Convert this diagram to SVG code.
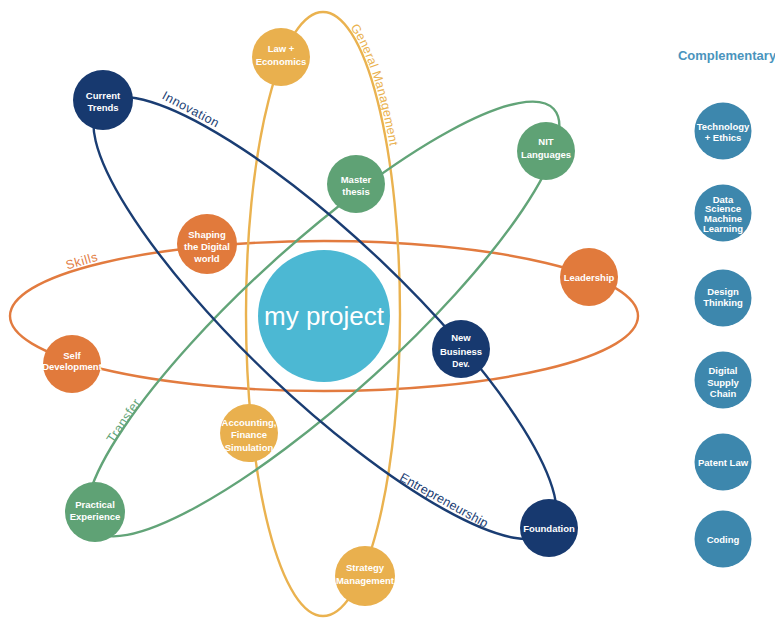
<svg xmlns="http://www.w3.org/2000/svg" width="775" height="620" viewBox="0 0 775 620">
  <style>
    .orbit { fill: none; stroke-width: 2.4; }
    .skills { stroke: #E27B3F; }
    .gm { stroke: #EAB24F; }
    .transfer { stroke: #62A478; }
    .innov { stroke: #1A3D73; }
    .lbl { font-family: "Liberation Sans", Arial, sans-serif; font-size: 12.5px; }
    .node text { font-family: "Liberation Sans", Arial, sans-serif; font-size: 9.5px; font-weight: bold; fill: #ffffff; text-anchor: middle; }
    .c-orange { fill: #E17A3C; }
    .c-gold { fill: #E9B04E; }
    .c-green { fill: #5FA275; }
    .c-navy { fill: #17396F; }
    .c-comp { fill: #3D87AD; }
  </style>
  <defs>
    <path id="gmPath" d="M 323 9 A 80 305 0 0 1 403 314"/>
  </defs>
  <rect width="775" height="620" fill="#ffffff"/>

  <!-- orbits and their labels -->
  <g id="connectors">
    <ellipse class="orbit skills" cx="324" cy="316" rx="314" ry="75"/>
    <ellipse class="orbit gm" cx="323" cy="314" rx="77" ry="302"/>
    <ellipse class="orbit transfer" cx="323" cy="319" rx="312" ry="76" transform="rotate(-42.3 323 319)"/>
    <ellipse class="orbit innov" cx="325" cy="318" rx="310" ry="80" transform="rotate(43.5 325 318)"/>

    <text class="lbl" fill="#E27B3F" letter-spacing="0.6" text-anchor="middle" x="83" y="265" transform="rotate(-16 83 265)">Skills</text>
    <text class="lbl" fill="#EAB24F" letter-spacing="0.3"><textPath href="#gmPath" startOffset="34">General Management</textPath></text>
    <text class="lbl" fill="#62A478" letter-spacing="0.5" text-anchor="middle" x="127" y="423" transform="rotate(-56 127 423)">Transfer</text>
    <text class="lbl" fill="#1A3D73" letter-spacing="0.5" text-anchor="middle" x="189" y="113" transform="rotate(28 189 113)">Innovation</text>
    <text class="lbl" fill="#1A3D73" letter-spacing="0.2" text-anchor="middle" x="442" y="504" transform="rotate(29 442 504)">Entrepreneurship</text>
  </g>

  <!-- centre -->
  <g id="my-project">
    <circle cx="324" cy="316" r="66" fill="#4CB8D3"/>
    <text x="324" y="325" text-anchor="middle" font-family="'Liberation Sans', Arial, sans-serif" font-size="26" fill="#ffffff">my project</text>
  </g>

  <!-- nodes on the orbits -->
  <g id="law-economics" class="node">
    <circle class="c-gold" cx="281" cy="57" r="29"/>
    <text><tspan x="281" y="51.5">Law +</tspan><tspan x="281" y="64.5">Economics</tspan></text>
  </g>
  <g id="current-trends" class="node">
    <circle class="c-navy" cx="103" cy="100" r="30"/>
    <text><tspan x="103" y="98.5">Current</tspan><tspan x="103" y="110.5">Trends</tspan></text>
  </g>
  <g id="master-thesis" class="node">
    <circle class="c-green" cx="356" cy="184" r="29"/>
    <text><tspan x="356" y="182.5">Master</tspan><tspan x="356" y="194.5">thesis</tspan></text>
  </g>
  <g id="nit-languages" class="node">
    <circle class="c-green" cx="546" cy="151" r="29"/>
    <text><tspan x="546" y="145">NIT</tspan><tspan x="546" y="158">Languages</tspan></text>
  </g>
  <g id="shaping-digital-world" class="node">
    <circle class="c-orange" cx="207" cy="244" r="30"/>
    <text><tspan x="207" y="238">Shaping</tspan><tspan x="207" y="250">the Digital</tspan><tspan x="207" y="261.5">world</tspan></text>
  </g>
  <g id="leadership" class="node">
    <circle class="c-orange" cx="589" cy="277" r="29"/>
    <text><tspan x="589" y="280.5">Leadership</tspan></text>
  </g>
  <g id="self-development" class="node">
    <circle class="c-orange" cx="72" cy="364" r="29"/>
    <text><tspan x="72" y="358.5">Self</tspan><tspan x="72" y="370">Development</tspan></text>
  </g>
  <g id="new-business-dev" class="node">
    <circle class="c-navy" cx="461" cy="349" r="29"/>
    <text><tspan x="461" y="340.5">New</tspan><tspan x="461" y="354.5">Business</tspan><tspan x="461" y="366.5" font-size="8.5">Dev.</tspan></text>
  </g>
  <g id="accounting-finance" class="node">
    <circle class="c-gold" cx="249" cy="433" r="29"/>
    <text><tspan x="249" y="425.5">Accounting,</tspan><tspan x="249" y="437.5">Finance</tspan><tspan x="249" y="450.5">Simulation</tspan></text>
  </g>
  <g id="practical-experience" class="node">
    <circle class="c-green" cx="95" cy="512" r="30"/>
    <text><tspan x="95" y="507.5">Practical</tspan><tspan x="95" y="519.5">Experience</tspan></text>
  </g>
  <g id="foundation" class="node">
    <circle class="c-navy" cx="549" cy="528" r="29"/>
    <text><tspan x="549" y="531.5">Foundation</tspan></text>
  </g>
  <g id="strategy-management" class="node">
    <circle class="c-gold" cx="365" cy="576" r="30"/>
    <text><tspan x="365" y="570.5">Strategy</tspan><tspan x="365" y="583.5">Management</tspan></text>
  </g>

  <!-- complementary column -->
  <text x="727" y="60" text-anchor="middle" font-family="'Liberation Sans', Arial, sans-serif" font-size="13" font-weight="bold" fill="#4A94BD">Complementary</text>
  <g id="technology-ethics" class="node">
    <circle class="c-comp" cx="723" cy="131" r="28.5"/>
    <text><tspan x="723" y="129.5">Technology</tspan><tspan x="723" y="140.5">+ Ethics</tspan></text>
  </g>
  <g id="data-science" class="node">
    <circle class="c-comp" cx="723" cy="213" r="28.5"/>
    <text><tspan x="723" y="202.5">Data</tspan><tspan x="723" y="212">Science</tspan><tspan x="723" y="221.8">Machine</tspan><tspan x="723" y="231.5">Learning</tspan></text>
  </g>
  <g id="design-thinking" class="node">
    <circle class="c-comp" cx="723" cy="298" r="28.5"/>
    <text><tspan x="723" y="295.2">Design</tspan><tspan x="723" y="305.8">Thinking</tspan></text>
  </g>
  <g id="digital-supply-chain" class="node">
    <circle class="c-comp" cx="723" cy="380" r="28.5"/>
    <text><tspan x="723" y="373.5">Digital</tspan><tspan x="723" y="385.5">Supply</tspan><tspan x="723" y="396.5">Chain</tspan></text>
  </g>
  <g id="patent-law" class="node">
    <circle class="c-comp" cx="723" cy="462" r="28.5"/>
    <text><tspan x="723" y="465.5">Patent Law</tspan></text>
  </g>
  <g id="coding" class="node">
    <circle class="c-comp" cx="723" cy="539" r="28.5"/>
    <text><tspan x="723" y="543">Coding</tspan></text>
  </g>
</svg>
